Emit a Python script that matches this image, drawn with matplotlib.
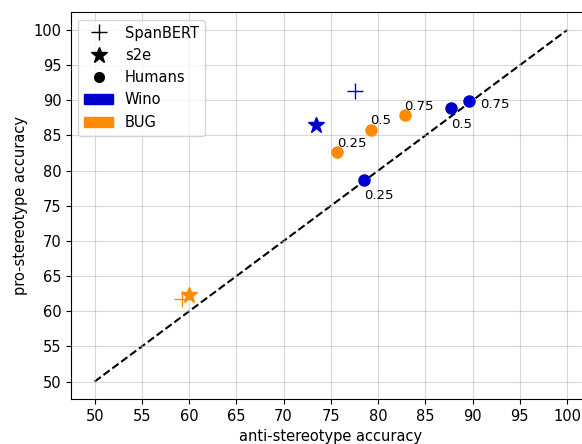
import numpy as np
import matplotlib.pyplot as plt
from matplotlib.lines import Line2D
from matplotlib.patches import Patch

plt.rcParams['font.size'] = 10.5

blue = '#0000cd'
orange = '#ff8c00'

# model results (anti, pro)
spanbert_wino = (77.6, 91.3)
s2e_wino = (73.4, 86.5)
spanbert_bug = (59.2, 61.8)
s2e_bug = (60.0, 62.3)

# human results at thresholds
thresholds = ['0.25', '0.5', '0.75']
human_wino_anti = [78.5, 87.7, 89.6]
human_wino_pro = [78.7, 88.9, 89.9]
human_bug_anti = [75.7, 79.2, 82.8]
human_bug_pro = [82.6, 85.8, 87.9]

fig = plt.figure(figsize=(5.82, 4.44), dpi=100)
ax = fig.add_axes([0.122, 0.101, 0.893, 0.871])

ax.plot([50, 100], [50, 100], 'k--', zorder=1)

ax.plot(*spanbert_wino, marker='+', color=blue, markersize=12, linestyle='none')
ax.plot(*s2e_wino, marker='*', color=blue, markersize=12, linestyle='none')
ax.plot(*spanbert_bug, marker='+', color=orange, markersize=12, linestyle='none')
ax.plot(*s2e_bug, marker='*', color=orange, markersize=12, linestyle='none')

ax.scatter(human_wino_anti, human_wino_pro, color=blue, s=64, zorder=3)
ax.scatter(human_bug_anti, human_bug_pro, color=orange, s=64, zorder=3)

wino_offsets = [(0, -14), (0, -14), (8, -5)]
for t, xx, yy, off in zip(thresholds, human_wino_anti, human_wino_pro, wino_offsets):
    ax.annotate(t, (xx, yy), xytext=off, textcoords='offset points', fontsize=9.5)
for t, xx, yy in zip(thresholds, human_bug_anti, human_bug_pro):
    ax.annotate(t, (xx, yy), xytext=(0, 4), textcoords='offset points', fontsize=9.5)

ax.set_xticks(np.arange(50, 101, 5))
ax.set_yticks(np.arange(50, 101, 5))
ax.set_xlim(47.5, 102.5)
ax.set_ylim(47.5, 102.5)
ax.grid(alpha=0.5)
ax.set_xlabel("anti-stereotype accuracy")
ax.set_ylabel("pro-stereotype accuracy")

handles = [
    Line2D([], [], marker='+', color='k', linestyle='none', markersize=12, label='SpanBERT'),
    Line2D([], [], marker='*', color='k', linestyle='none', markersize=12, label='s2e'),
    Line2D([], [], marker='o', color='k', linestyle='none', markersize=7, label='Humans'),
    Patch(color=blue, label='Wino'),
    Patch(color=orange, label='BUG'),
]
ax.legend(handles=handles, loc='upper left')

fig.savefig('out.png', dpi=100)
